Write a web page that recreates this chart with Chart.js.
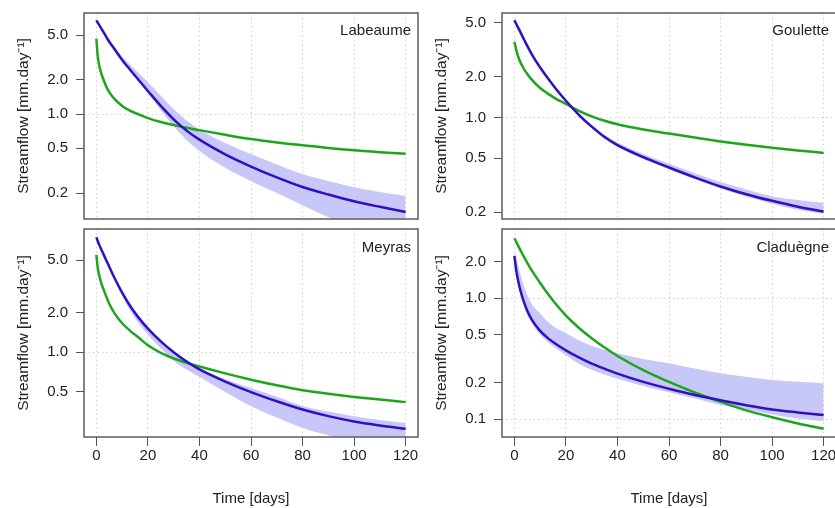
<!DOCTYPE html>
<html>
<head>
<meta charset="utf-8">
<script src="https://cdn.jsdelivr.net/npm/chart.js@4.4.0/dist/chart.umd.min.js"></script>
<style>
  html, body { margin: 0; padding: 0; background: #fff; overflow: hidden; }
  body { width: 835px; height: 508px; position: relative; }
  .panel { position: absolute; }
</style>
</head>
<body>
<div class="panel" style="left:0;top:0;width:420px;height:220px"><canvas id="labeaume"></canvas></div>
<div class="panel" style="left:418px;top:0;width:420px;height:220px"><canvas id="goulette"></canvas></div>
<div class="panel" style="left:0;top:220px;width:420px;height:288px"><canvas id="meyras"></canvas></div>
<div class="panel" style="left:418px;top:220px;width:420px;height:288px"><canvas id="claduegne"></canvas></div>
<script>
// time axis, shared by every panel
var days = [0, 0.5, 1, 2, 3, 4, 5, 7, 10, 13, 16, 20, 25, 30, 35, 40, 50, 60, 70, 80, 90, 100, 110, 120];
var dayTicks = [0, 20, 40, 60, 80, 100, 120];

// Labeaume
var labeaumeBlue  = [6.75, 6.46, 6.18, 5.66, 5.19, 4.75, 4.36, 3.76, 3.01, 2.48, 2.05, 1.6, 1.18, 0.897, 0.713, 0.593, 0.44, 0.343, 0.275, 0.226, 0.194, 0.169, 0.151, 0.136];
var labeaumeGreen = [4.64, 3.3, 2.75, 2.25, 1.95, 1.72, 1.56, 1.36, 1.18, 1.07, 1.0, 0.92, 0.85, 0.8, 0.755, 0.72, 0.655, 0.6, 0.56, 0.53, 0.5, 0.477, 0.46, 0.445];
var labeaumeLow   = [6.7, 6.41, 6.13, 5.62, 5.15, 4.71, 4.32, 3.73, 2.98, 2.45, 2.0, 1.53, 1.08, 0.78, 0.59, 0.47, 0.334, 0.254, 0.2, 0.156, 0.122, 0.099, 0.085, 0.075];
var labeaumeHigh  = [6.8, 6.52, 6.25, 5.77, 5.31, 4.88, 4.5, 3.94, 3.23, 2.75, 2.35, 1.92, 1.45, 1.1, 0.877, 0.73, 0.554, 0.442, 0.358, 0.294, 0.255, 0.225, 0.204, 0.188];
var labeaumeTicks = [0.2, 0.5, 1, 2, 5];

// Goulette
var gouletteBlue  = [5.24, 5.01, 4.8, 4.4, 4.03, 3.69, 3.38, 2.88, 2.34, 1.95, 1.64, 1.33, 1.047, 0.855, 0.716, 0.624, 0.509, 0.427, 0.361, 0.309, 0.271, 0.242, 0.219, 0.202];
var gouletteGreen = [3.62, 3.3, 3.02, 2.65, 2.42, 2.23, 2.1, 1.88, 1.65, 1.5, 1.38, 1.26, 1.12, 1.02, 0.945, 0.89, 0.815, 0.76, 0.71, 0.665, 0.628, 0.597, 0.57, 0.547];
var gouletteLow   = [5.18, 4.95, 4.74, 4.34, 3.97, 3.63, 3.33, 2.84, 2.3, 1.92, 1.61, 1.305, 1.025, 0.835, 0.698, 0.606, 0.494, 0.414, 0.349, 0.298, 0.26, 0.23, 0.208, 0.193];
var gouletteHigh  = [5.3, 5.07, 4.86, 4.46, 4.09, 3.75, 3.44, 2.93, 2.39, 1.99, 1.68, 1.365, 1.08, 0.885, 0.745, 0.652, 0.537, 0.455, 0.387, 0.333, 0.294, 0.262, 0.245, 0.234];
var gouletteTicks = [0.2, 0.5, 1, 2, 5];

// Meyras
var meyrasBlue  = [7.43, 7.0, 6.6, 5.96, 5.4, 4.9, 4.45, 3.67, 2.83, 2.26, 1.87, 1.51, 1.21, 1.0, 0.851, 0.741, 0.6, 0.499, 0.425, 0.368, 0.328, 0.299, 0.279, 0.263];
var meyrasGreen = [5.48, 4.4, 3.9, 3.3, 2.92, 2.6, 2.33, 1.98, 1.66, 1.46, 1.31, 1.13, 0.99, 0.897, 0.832, 0.78, 0.692, 0.62, 0.562, 0.516, 0.485, 0.459, 0.438, 0.419];
var meyrasLow   = [7.3, 6.9, 6.5, 5.86, 5.3, 4.8, 4.35, 3.56, 2.68, 2.08, 1.7, 1.36, 1.07, 0.86, 0.74, 0.65, 0.5, 0.39, 0.32, 0.267, 0.235, 0.21, 0.195, 0.18];
var meyrasHigh  = [7.6, 7.15, 6.75, 6.08, 5.51, 5.0, 4.54, 3.74, 2.89, 2.31, 1.91, 1.54, 1.235, 1.02, 0.87, 0.76, 0.625, 0.536, 0.46, 0.392, 0.355, 0.327, 0.307, 0.291];
var meyrasTicks = [0.5, 1, 2, 5];

// Claduègne
var cladBlue  = [2.25, 1.85, 1.57, 1.24, 1.04, 0.895, 0.789, 0.653, 0.537, 0.468, 0.42, 0.37, 0.324, 0.288, 0.261, 0.238, 0.203, 0.178, 0.158, 0.143, 0.13, 0.12, 0.1135, 0.108];
var cladGreen = [3.13, 3.0, 2.85, 2.59, 2.35, 2.15, 1.97, 1.67, 1.34, 1.09, 0.9, 0.72, 0.571, 0.467, 0.391, 0.333, 0.254, 0.203, 0.166, 0.139, 0.118, 0.1035, 0.092, 0.083];
var cladLow   = [2.1, 1.7, 1.45, 1.15, 0.96, 0.83, 0.73, 0.61, 0.5, 0.435, 0.385, 0.338, 0.287, 0.256, 0.233, 0.216, 0.188, 0.167, 0.148, 0.131, 0.12, 0.109, 0.101, 0.096];
var cladHigh  = [2.6, 2.3, 2.05, 1.7, 1.42, 1.22, 1.07, 0.88, 0.75, 0.64, 0.57, 0.514, 0.45, 0.405, 0.375, 0.35, 0.315, 0.29, 0.262, 0.24, 0.224, 0.211, 0.204, 0.198];
var cladTicks = [0.1, 0.2, 0.5, 1, 2];

var BLUE = '#3010c0';
var GREEN = '#1ea51e';
var BAND = '#c8c8f8';
var FONT = '"Liberation Sans", Arial, sans-serif';

Chart.defaults.font.family = FONT;
Chart.defaults.color = '#222';

function pts(arr) {
  return days.map(function(d, i) { return {x: d, y: arr[i]}; });
}

function isDecade(v) {
  if (!v) return false;
  var l = Math.log10(v);
  return Math.abs(l - Math.round(l)) < 1e-6;
}

// frame round the plot area + station name in the corner
var boxPlugin = {
  id: 'box',
  afterDraw: function(chart, args, opts) {
    var a = chart.chartArea, ctx = chart.ctx;
    ctx.save();
    ctx.strokeStyle = '#5c5c5c';
    ctx.lineWidth = 1.5;
    ctx.strokeRect(a.left, a.top, a.right - a.left, a.bottom - a.top);
    ctx.font = '15px ' + FONT;
    ctx.fillStyle = '#222';
    ctx.textAlign = 'right';
    ctx.textBaseline = 'middle';
    ctx.fillText(opts.name, a.right - 7, a.top + opts.dy);
    ctx.restore();
  }
};

function makePanel(id, name, blue, green, low, high, yTicks, yMin, yMax, bottom) {
  var line = {pointRadius: 0, borderWidth: 2.5, cubicInterpolationMode: 'monotone', fill: false};
  new Chart(document.getElementById(id), {
    type: 'line',
    data: {
      datasets: [
        Object.assign({data: pts(blue), borderColor: BLUE}, line),
        Object.assign({data: pts(green), borderColor: GREEN}, line),
        {data: pts(low), borderWidth: 0, borderColor: 'rgba(0,0,0,0)', pointRadius: 0, cubicInterpolationMode: 'monotone', fill: false},
        {data: pts(high), borderWidth: 0, borderColor: 'rgba(0,0,0,0)', backgroundColor: BAND, pointRadius: 0, cubicInterpolationMode: 'monotone', fill: '-1'}
      ]
    },
    options: {
      responsive: true,
      maintainAspectRatio: false,
      animation: false,
      layout: {padding: bottom ? {top: 9, right: 2, bottom: 0, left: 0} : {top: 13, right: 2, bottom: 1, left: 0}},
      plugins: {
        legend: {display: false},
        tooltip: {enabled: false},
        box: {name: name, dy: bottom ? 19 : 18}
      },
      scales: {
        x: {
          type: 'linear', min: -4.8, max: 124.8,
          afterBuildTicks: function(s) { s.ticks = dayTicks.map(function(v) { return {value: v}; }); },
          afterFit: function(s) {
            s.height = bottom ? 71 : 0;
            s.paddingLeft = 0; s.paddingRight = 0;
          },
          grid: {color: '#d2d2d2', lineWidth: 1, borderDash: [1.5, 3], drawTicks: bottom, tickLength: 9, tickColor: '#555', tickWidth: 1, tickBorderDash: []},
          border: {display: false, dash: [1.5, 3]},
          ticks: {display: bottom, padding: 1, font: {size: 15}, color: '#222', maxRotation: 0, autoSkip: false},
          title: {display: bottom, text: 'Time [days]', font: {size: 15}, color: '#222', padding: {top: 0, bottom: 0}}
        },
        y: {
          type: 'logarithmic', min: yMin, max: yMax,
          afterBuildTicks: function(s) { s.ticks = yTicks.map(function(v) { return {value: v}; }); },
          afterFit: function(s) {
            s.width = 84;
            s.paddingTop = 0; s.paddingBottom = 0;
          },
          grid: {
            color: function(c) { return isDecade(c.tick && c.tick.value) ? '#d2d2d2' : 'rgba(0,0,0,0)'; },
            borderDash: [1.5, 3], tickLength: 8, tickColor: '#555', tickWidth: 1, tickBorderDash: []
          },
          border: {display: false, dash: [1.5, 3]},
          ticks: {padding: 8, font: {size: 15}, color: '#222', autoSkip: false,
            callback: function(v) { return Number(v).toFixed(1); }},
          title: {display: true, text: 'Streamflow [mm.day\u207B\u00B9]', font: {size: 15.5}, color: '#222', padding: {top: 14, bottom: 0}}
        }
      }
    },
    plugins: [boxPlugin]
  });
}

makePanel('labeaume', 'Labeaume', labeaumeBlue, labeaumeGreen, labeaumeLow, labeaumeHigh, labeaumeTicks, 0.1178, 7.83, false);
makePanel('goulette', 'Goulette', gouletteBlue, gouletteGreen, gouletteLow, gouletteHigh, gouletteTicks, 0.1776, 5.92, false);
makePanel('meyras', 'Meyras', meyrasBlue, meyrasGreen, meyrasLow, meyrasHigh, meyrasTicks, 0.228, 8.59, true);
makePanel('claduegne', 'Claduègne', cladBlue, cladGreen, cladLow, cladHigh, cladTicks, 0.071, 3.75, true);
</script>
</body>
</html>
